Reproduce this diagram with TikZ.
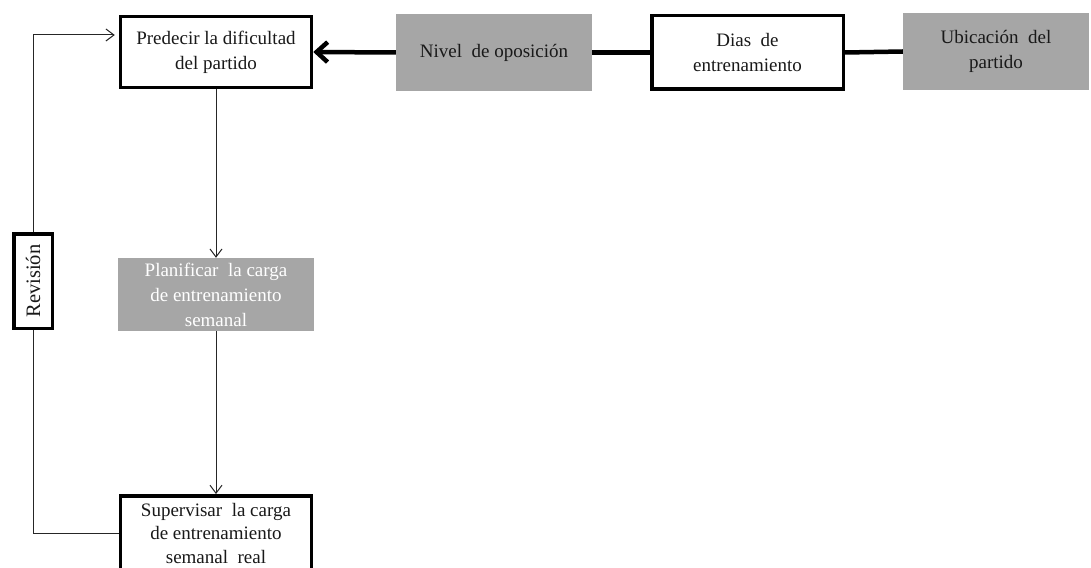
\documentclass[tikz,border=0pt]{standalone}
\usepackage{fontspec}
\setmainfont{Liberation Serif}
\usetikzlibrary{arrows.meta}
\definecolor{boxgray}{HTML}{A6A6A6}
\begin{document}
\begin{tikzpicture}[x=1pt,y=-1pt,
  every node/.style={font=\fontsize{19}{25}\selectfont, align=center, inner sep=0pt, text=black!90},
  wbox/.style={draw=black, line width=3.5pt, fill=white},
  gbox/.style={fill=boxgray, draw=none},
  thinline/.style={line width=1pt, draw=black!85},
  thinarrow/.style={thinline, -{Straight Barb[length=8pt,width=12pt]}},
  thickline/.style={line width=4.5pt, draw=black},
]
\clip (0,0) rectangle (1091,567);
\fill[white] (0,0) rectangle (1091,567);

\node[wbox, minimum width=191, minimum height=71] (pred) at (216,52) {Predecir la dificultad\\del partido};
\node[gbox, minimum width=196, minimum height=77] (niv) at (494,52.5) {Nivel\ \ de oposición};
\node[wbox, minimum width=191.5, minimum height=73.5] (dias) at (747.5,52.5) {Dias\ \ de\\entrenamiento};
\node[gbox, minimum width=186, minimum height=77] (ubic) at (996,51.5) {Ubicación\ \ del\\partido};
\node[gbox, minimum width=196, minimum height=73, text=white] (plan) at (216,294.5) {Planificar\ \ la carga\\de entrenamiento\\semanal};
\node[wbox, minimum width=191, minimum height=80] (supbox) at (216,535.75) {};
\node[font=\fontsize{19}{23.5}\selectfont] (sup) at (216,533) {Supervisar\ \ la carga\\de entrenamiento\\semanal\ \ real};
\node[wbox, rotate=90, minimum width=94.5, minimum height=38.5, font=\fontsize{20.5}{25}\selectfont] (rev) at (33,281) {Revisión};

\coordinate (lt) at (33,35);
\coordinate (lb) at (33,533);

\draw[thickline] (ubic.west) -- (dias.east);
\draw[thickline] (dias.west) -- (niv.east);
\draw[thickline, -{Straight Barb[length=11pt,width=20pt]}] (niv.west) -- (pred.east);

\draw[thinarrow, shorten >=4pt] (rev.east) -- (lt) -- (pred.west |- lt);
\draw[thinline] (rev.west) -- (lb) -- (supbox.west |- lb);
\draw[thinarrow] (pred.south) -- (plan.north);
\draw[thinarrow] (plan.south) -- (supbox.north);
\end{tikzpicture}
\end{document}
